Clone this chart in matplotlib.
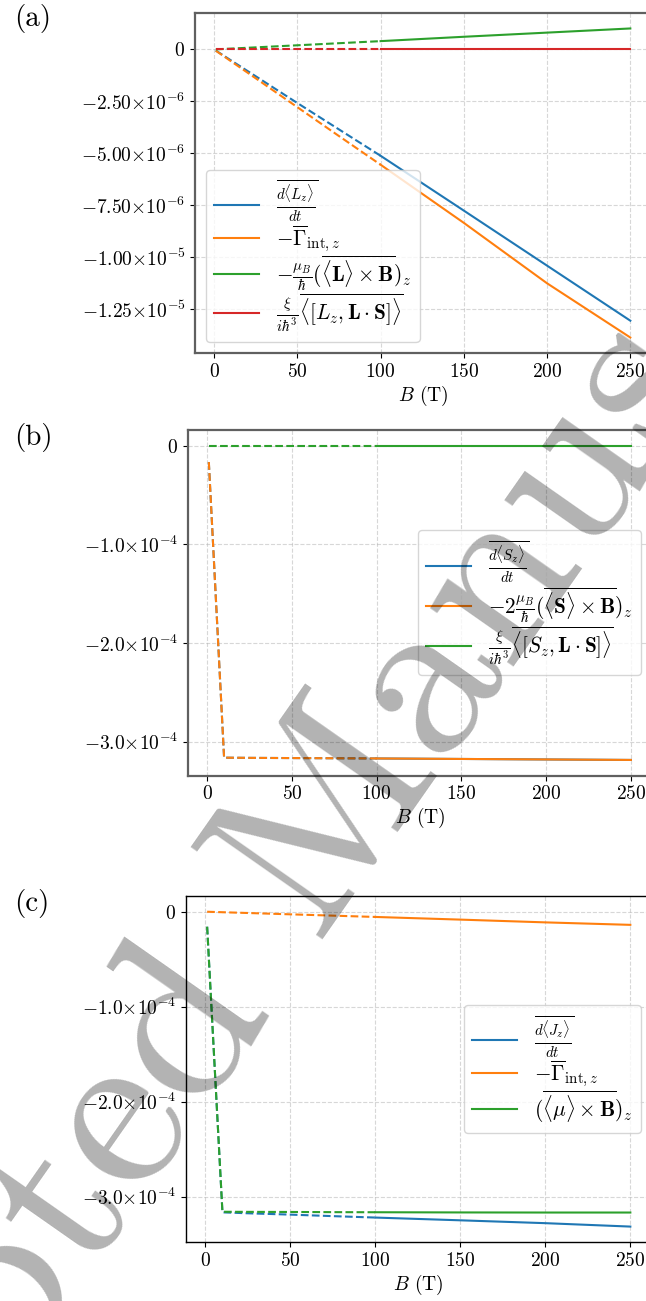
import matplotlib
matplotlib.use("Agg")
import matplotlib.pyplot as plt
from matplotlib.ticker import FuncFormatter

plt.rcParams['font.family'] = 'serif'
plt.rcParams['font.serif'] = ['cmr10']
plt.rcParams['mathtext.fontset'] = 'cm'
plt.rcParams['axes.formatter.use_mathtext'] = True
plt.rcParams['axes.unicode_minus'] = False

# field values: dashed (low field grid) and solid (high field grid)
B_lo = [1, 10, 25, 50, 75, 100]
B_hi = [100, 150, 200, 250]

# (a) orbital angular momentum
a_dLz_lo = [-0.05e-6, -0.52e-6, -1.29e-6, -2.58e-6, -3.85e-6, -5.12e-6]
a_dLz_hi = [-5.12e-6, -7.76e-6, -10.41e-6, -13.06e-6]
a_gam_lo = [-0.06e-6, -0.56e-6, -1.39e-6, -2.78e-6, -4.17e-6, -5.55e-6]
a_gam_hi = [-5.55e-6, -8.35e-6, -11.26e-6, -13.87e-6]
a_LxB_lo = [0.004e-6, 0.04e-6, 0.10e-6, 0.20e-6, 0.30e-6, 0.40e-6]
a_LxB_hi = [0.40e-6, 0.61e-6, 0.81e-6, 1.01e-6]
a_com_lo = [0, 0, 0, 0, 0, 0]
a_com_hi = [0, 0, 0, 0]

# (b) spin angular momentum
b_dSz_lo = [-0.166e-4, -3.162e-4, -3.164e-4, -3.166e-4, -3.168e-4, -3.170e-4]
b_dSz_hi = [-3.170e-4, -3.175e-4, -3.180e-4, -3.185e-4]
b_SxB_lo = [-0.166e-4, -3.162e-4, -3.164e-4, -3.166e-4, -3.168e-4, -3.170e-4]
b_SxB_hi = [-3.170e-4, -3.175e-4, -3.180e-4, -3.185e-4]
b_com_lo = [0, 0, 0, 0, 0, 0]
b_com_hi = [0, 0, 0, 0]

# (c) total angular momentum
c_dJz_lo = [-0.159e-4, -3.166e-4, -3.176e-4, -3.190e-4, -3.206e-4, -3.221e-4]
c_dJz_hi = [-3.221e-4, -3.250e-4, -3.280e-4, -3.316e-4]
c_gam_lo = a_gam_lo
c_gam_hi = a_gam_hi
c_muB_lo = [-0.158e-4, -3.160e-4, -3.161e-4, -3.162e-4, -3.164e-4, -3.165e-4]
c_muB_hi = [-3.165e-4, -3.167e-4, -3.168e-4, -3.168e-4]

labels_a = [r'$\overline{\frac{d\langle L_z\rangle}{dt}}$',
            r'$-\overline{\Gamma}_{\mathrm{int},z}$',
            r'$-\frac{\mu_B}{\hbar}(\overline{\langle\mathbf{L}\rangle\times\mathbf{B}})_z$',
            r'$\frac{\xi}{i\hbar^3}\overline{\langle[L_z,\mathbf{L}\cdot\mathbf{S}]\rangle}$']
labels_b = [r'$\overline{\frac{d\langle S_z\rangle}{dt}}$',
            r'$-2\frac{\mu_B}{\hbar}(\overline{\langle\mathbf{S}\rangle\times\mathbf{B}})_z$',
            r'$\frac{\xi}{i\hbar^3}\overline{\langle[S_z,\mathbf{L}\cdot\mathbf{S}]\rangle}$']
labels_c = [r'$\overline{\frac{d\langle J_z\rangle}{dt}}$',
            r'$-\overline{\Gamma}_{\mathrm{int},z}$',
            r'$(\overline{\langle\mu\rangle\times\mathbf{B}})_z$']

colors = ['#1f77b4', '#ff7f0e', '#2ca02c', '#d62728']


def sci(nd):
    def f(v, pos):
        if abs(v) < 1e-15:
            return r'$0$'
        ex = -5 if abs(v) >= 9.99e-6 and abs(v) < 1e-4 else (-6 if abs(v) < 1e-5 else -4)
        return r'$%.*f{\times}10^{%d}$' % (nd, v / 10.0**ex, ex)
    return FuncFormatter(f)


def panel(ax, series, labels, yt, fmt, spine_col, spine_lw):
    for (lo, hi), lab, col in zip(series, labels, colors):
        ax.plot(B_lo, lo, '--', color=col)
        ax.plot(B_hi, hi, '-', color=col, label=lab)
    ax.set_yticks(yt)
    ax.yaxis.set_major_formatter(fmt)
    ax.set_xticks([0, 50, 100, 150, 200, 250])
    ax.grid(True, linestyle='--', color='#b0b0b0', alpha=0.5)
    ax.tick_params(labelsize=14)
    ax.set_xlabel(r'$B$ (T)', fontsize=14, labelpad=2)
    for s in ax.spines.values():
        s.set_color(spine_col)
        s.set_linewidth(spine_lw)


fig = plt.figure(figsize=(6.46, 13.01), dpi=100)
ax1 = fig.add_axes([0.3019, 0.7287, 0.7059, 0.2613])
ax2 = fig.add_axes([0.2906, 0.4038, 0.7187, 0.2657])
ax3 = fig.add_axes([0.2879, 0.0451, 0.7206, 0.2662])

panel(ax1, [(a_dLz_lo, a_dLz_hi), (a_gam_lo, a_gam_hi), (a_LxB_lo, a_LxB_hi), (a_com_lo, a_com_hi)],
      labels_a, [0, -2.5e-6, -5e-6, -7.5e-6, -1e-5, -1.25e-5], sci(2), '#606060', 1.6)
ax1.legend(loc='lower left', fontsize=15.3, labelspacing=-0.05, handlelength=2.1)

panel(ax2, [(b_dSz_lo, b_dSz_hi), (b_SxB_lo, b_SxB_hi), (b_com_lo, b_com_hi)],
      labels_b, [0, -1e-4, -2e-4, -3e-4], sci(1), '#606060', 1.6)
ax2.legend(loc='center right', fontsize=15.3, labelspacing=0.0, handlelength=2.1)

panel(ax3, [(c_dJz_lo, c_dJz_hi), (c_gam_lo, c_gam_hi), (c_muB_lo, c_muB_hi)],
      labels_c, [0, -1e-4, -2e-4, -3e-4], sci(1), 'black', 1.0)
ax3.legend(loc='center right', fontsize=15.3, labelspacing=-0.05, handlelength=2.1)

fig.text(0.022, 0.997, '(a)', fontsize=21, va='top')
fig.text(0.022, 0.675, '(b)', fontsize=21, va='top')
fig.text(0.022, 0.317, '(c)', fontsize=21, va='top')

# watermark
fig.text(0.480, 0.346, 'Accepted Manuscript', fontsize=170, rotation=55,
         rotation_mode='anchor', ha='center', va='center', color='black', alpha=0.3)

fig.savefig('out.png', dpi=100)
